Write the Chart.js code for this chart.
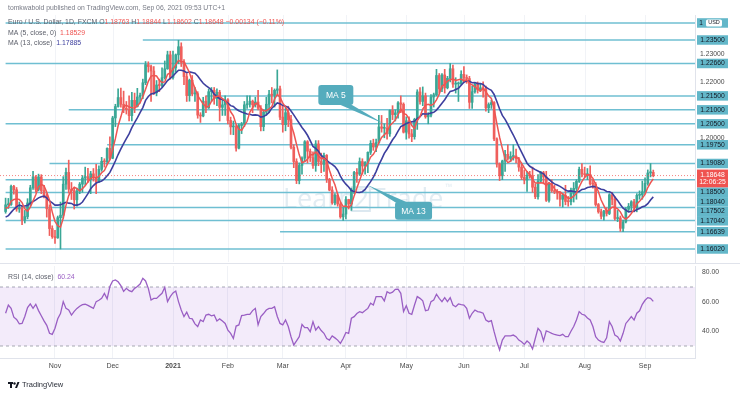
<!DOCTYPE html>
<html>
<head>
<meta charset="utf-8">
<script src="https://cdn.jsdelivr.net/npm/chart.js@4.4.0/dist/chart.umd.min.js"></script>
<style>
  html, body { margin: 0; padding: 0; background: #fff; }
  #wrap { position: relative; width: 740px; height: 393px; overflow: hidden; }
  canvas { position: absolute; left: 0; }
  #price { top: 0; }
  #rsi { top: 263px; }
</style>
</head>
<body>
<div id="wrap">
  <canvas id="price" width="740" height="263"></canvas>
  <canvas id="rsi" width="740" height="130"></canvas>
</div>
<script>
// EUR/USD daily bars, index 0 = 7 Oct 2020, last = 6 Sep 2021
const open = [
  1.1736,1.1760,1.1761,1.1826,1.1814,1.1745,1.1747,1.1706,1.1718,1.1767,1.1821,1.1860,1.1815,1.1860,1.1811,1.1794,1.1746,1.1675,
  1.1646,1.1642,1.1714,1.1723,1.1834,1.1876,1.1816,1.1811,1.1778,1.1809,1.1834,1.1856,1.1861,1.1851,1.1871,1.1857,1.1842,1.1887,1.1916,1.1914,1.1962,
  1.1927,1.2071,1.2112,1.2144,1.2120,1.2106,1.2101,1.2079,1.2134,1.2112,1.2146,1.2152,1.2197,1.2262,1.2255,1.2239,1.2161,1.2189,1.2187,1.2215,1.2247,1.2297,
  1.2216,1.2250,1.2297,1.2326,1.2270,1.2219,1.2151,1.2206,1.2157,1.2158,1.2081,1.2078,1.2131,1.2107,1.2165,1.2170,1.2140,1.2163,1.2109,1.2118,
  1.2136,1.2062,1.2039,1.2040,1.1963,1.2044,1.2049,1.2118,1.2120,1.2131,1.2118,1.2128,1.2106,1.2040,1.2092,1.2120,1.2156,1.2152,1.2170,1.2175,
  1.2074,1.2047,1.2090,1.2065,1.1966,1.1915,1.1847,1.1901,1.1927,1.1986,1.1952,1.1929,1.1901,1.1978,1.1915,1.1905,1.1937,1.1851,1.1813,1.1767,1.1794,1.1763,1.1717,
  1.1727,1.1779,1.1763,1.1814,1.1876,1.1870,1.1915,1.1899,1.1912,1.1948,1.1980,1.1967,1.1983,1.2039,1.2034,1.2034,1.2014,1.2098,1.2083,1.2089,1.2125,1.2120,
  1.2020,1.2061,1.2014,1.2004,1.2066,1.2164,1.2130,1.2150,1.2075,1.2081,1.2146,1.2154,1.2223,1.2175,1.2225,1.2179,1.2213,1.2247,1.2192,1.2193,1.2193,
  1.2227,1.2214,1.2212,1.2127,1.2165,1.2192,1.2172,1.2179,1.2175,1.2107,1.2119,1.2126,1.1996,1.1906,1.1864,1.1917,1.1941,1.1926,1.1933,1.1935,1.1925,1.1895,
  1.1858,1.1849,1.1866,1.1865,1.1823,1.1789,1.1845,1.1875,1.1860,1.1776,1.1837,1.1811,1.1806,1.1802,1.1780,1.1794,1.1772,1.1771,1.1801,1.1819,1.1844,1.1887,
  1.1870,1.1868,1.1869,1.1835,1.1834,1.1761,1.1735,1.1719,1.1738,1.1729,1.1796,1.1780,1.1711,1.1713,1.1676,1.1699,1.1744,1.1755,1.1771,1.1750,1.1794,1.1796,
  1.1807,1.1837,1.1874,1.18763
];
const high = [
  1.1784,1.1783,1.1831,1.1830,1.1822,1.1770,1.1755,1.1740,1.1782,1.1830,1.1880,1.1865,1.1870,1.1868,1.1830,1.1800,1.1760,1.1685,
  1.1669,1.1720,1.1770,1.1861,1.1892,1.1920,1.1840,1.1820,1.1820,1.1840,1.1865,1.1895,1.1891,1.1880,1.1890,1.1905,1.1900,1.1930,1.1925,1.1964,1.2003,
  1.2077,1.2120,1.2175,1.2178,1.2167,1.2130,1.2150,1.2163,1.2160,1.2177,1.2160,1.2210,1.2273,1.2272,1.2260,1.2255,1.2205,1.2210,1.2250,1.2275,1.2310,1.2310,
  1.2310,1.2300,1.2349,1.2340,1.2280,1.2230,1.2210,1.2223,1.2180,1.2165,1.2090,1.2145,1.2150,1.2175,1.2180,1.2180,1.2175,1.2170,1.2140,1.2150,
  1.2140,1.2074,1.2060,1.2045,1.2050,1.2055,1.2130,1.2150,1.2150,1.2135,1.2145,1.2170,1.2115,1.2100,1.2145,1.2170,1.2180,1.2175,1.2243,1.2185,
  1.2115,1.2110,1.2113,1.2080,1.1975,1.1925,1.1910,1.1932,1.1990,1.1990,1.1960,1.1950,1.1990,1.1990,1.1945,1.1945,1.1940,1.1855,1.1825,1.1800,1.1800,1.1770,1.1750,
  1.1790,1.1780,1.1820,1.1880,1.1890,1.1928,1.1925,1.1915,1.1950,1.1990,1.1995,1.1995,1.2080,1.2080,1.2050,1.2070,1.2100,1.2115,1.2100,1.2130,1.2150,1.2125,
  1.2075,1.2075,1.2030,1.2070,1.2172,1.2180,1.2182,1.2160,1.2090,1.2155,1.2160,1.2245,1.2230,1.2230,1.2245,1.2220,1.2266,1.2260,1.2215,1.2200,1.2240,
  1.2255,1.2225,1.2220,1.2185,1.2195,1.2200,1.2195,1.2200,1.2185,1.2125,1.2135,1.2130,1.2000,1.1910,1.1920,1.1955,1.1975,1.1950,1.1975,1.1960,1.1930,1.1905,
  1.1885,1.1880,1.1880,1.1895,1.1835,1.1868,1.1880,1.1880,1.1880,1.1840,1.1850,1.1830,1.1815,1.1805,1.1800,1.1830,1.1790,1.1820,1.1840,1.1850,1.1895,1.1908,
  1.1895,1.1890,1.1900,1.1850,1.1840,1.1765,1.1745,1.1740,1.1750,1.1800,1.1805,1.1790,1.1740,1.1720,1.1705,1.1750,1.1765,1.1775,1.1780,1.1800,1.1810,1.1845,
  1.1857,1.1885,1.1908,1.18844
];
const low = [
  1.1730,1.1747,1.1758,1.1798,1.1737,1.1733,1.1689,1.1695,1.1710,1.1755,1.1815,1.1805,1.1810,1.1800,1.1785,1.1716,1.1650,1.1640,
  1.1622,1.1640,1.1602,1.1712,1.1815,1.1802,1.1779,1.1745,1.1755,1.1800,1.1805,1.1830,1.1840,1.1800,1.1845,1.1800,1.1840,1.1880,1.1895,1.1905,1.1922,
  1.1925,1.2040,1.2110,1.2110,1.2090,1.2085,1.2060,1.2060,1.2090,1.2110,1.2125,1.2140,1.2190,1.2235,1.2130,1.2155,1.2150,1.2165,1.2180,1.2210,1.2245,1.2210,
  1.2210,1.2235,1.2265,1.2255,1.2190,1.2130,1.2131,1.2150,1.2130,1.2070,1.2055,1.2075,1.2090,1.2105,1.2130,1.2120,1.2115,1.2060,1.2080,1.2080,
  1.2050,1.2012,1.2011,1.1952,1.1960,1.2015,1.2040,1.2105,1.2110,1.2090,1.2110,1.2100,1.2025,1.2025,1.2080,1.2090,1.2125,1.2110,1.2155,1.2065,
  1.2020,1.2025,1.2040,1.1960,1.1893,1.1836,1.1835,1.1870,1.1915,1.1910,1.1915,1.1890,1.1880,1.1900,1.1875,1.1880,1.1840,1.1810,1.1762,1.1760,1.1755,1.1712,1.1704,
  1.1710,1.1745,1.1740,1.1800,1.1840,1.1865,1.1870,1.1870,1.1875,1.1940,1.1955,1.1950,1.1980,1.2020,1.2000,1.1995,1.2005,1.2065,1.2060,1.2070,1.2090,1.2017,
  1.1995,1.1999,1.1986,1.1995,1.2030,1.2120,1.2115,1.2070,1.2050,1.2075,1.2110,1.2150,1.2160,1.2165,1.2160,1.2175,1.2200,1.2180,1.2160,1.2130,1.2190,
  1.2200,1.2195,1.2105,1.2105,1.2160,1.2160,1.2165,1.2145,1.2095,1.2090,1.2105,1.1990,1.1895,1.1847,1.1850,1.1880,1.1920,1.1915,1.1920,1.1910,1.1880,1.1850,
  1.1835,1.1808,1.1855,1.1805,1.1782,1.1780,1.1840,1.1835,1.1772,1.1770,1.1805,1.1800,1.1780,1.1755,1.1752,1.1760,1.1755,1.1760,1.1770,1.1780,1.1840,1.1860,
  1.1860,1.1850,1.1830,1.1820,1.1755,1.1730,1.1710,1.1705,1.1720,1.1725,1.1760,1.1705,1.1700,1.1665,1.1664,1.1695,1.1735,1.1740,1.1735,1.1735,1.1780,1.1780,
  1.1800,1.1830,1.1860,1.18602
];
const close = [
  1.1760,1.1761,1.1826,1.1814,1.1745,1.1747,1.1706,1.1718,1.1767,1.1821,1.1860,1.1815,1.1860,1.1811,1.1794,1.1746,1.1675,1.1646,
  1.1642,1.1714,1.1723,1.1834,1.1876,1.1816,1.1811,1.1778,1.1809,1.1834,1.1856,1.1861,1.1851,1.1871,1.1857,1.1842,1.1887,1.1916,1.1914,1.1962,1.1927,
  1.2071,1.2112,1.2144,1.2120,1.2106,1.2101,1.2079,1.2134,1.2112,1.2146,1.2152,1.2197,1.2262,1.2255,1.2239,1.2161,1.2189,1.2187,1.2215,1.2247,1.2297,1.2216,
  1.2250,1.2297,1.2326,1.2270,1.2219,1.2151,1.2206,1.2157,1.2158,1.2081,1.2078,1.2131,1.2107,1.2165,1.2170,1.2140,1.2163,1.2109,1.2118,1.2136,
  1.2062,1.2039,1.2040,1.1963,1.2044,1.2049,1.2118,1.2120,1.2131,1.2118,1.2128,1.2106,1.2040,1.2092,1.2120,1.2156,1.2152,1.2170,1.2175,1.2074,
  1.2047,1.2090,1.2065,1.1966,1.1915,1.1847,1.1901,1.1927,1.1986,1.1952,1.1929,1.1901,1.1978,1.1915,1.1905,1.1937,1.1851,1.1813,1.1767,1.1794,1.1763,1.1717,1.1727,
  1.1779,1.1763,1.1814,1.1876,1.1870,1.1915,1.1899,1.1912,1.1948,1.1980,1.1967,1.1983,1.2039,1.2034,1.2034,1.2014,1.2098,1.2083,1.2089,1.2125,1.2120,1.2020,
  1.2061,1.2014,1.2004,1.2066,1.2164,1.2130,1.2150,1.2075,1.2081,1.2146,1.2154,1.2223,1.2175,1.2225,1.2179,1.2213,1.2247,1.2192,1.2193,1.2193,1.2227,
  1.2214,1.2212,1.2127,1.2165,1.2192,1.2172,1.2179,1.2175,1.2107,1.2119,1.2126,1.1996,1.1906,1.1864,1.1917,1.1941,1.1926,1.1933,1.1935,1.1925,1.1895,1.1858,
  1.1849,1.1866,1.1865,1.1823,1.1789,1.1845,1.1875,1.1860,1.1776,1.1837,1.1811,1.1806,1.1802,1.1780,1.1794,1.1772,1.1771,1.1801,1.1819,1.1844,1.1887,1.1870,
  1.1868,1.1869,1.1835,1.1834,1.1761,1.1735,1.1719,1.1738,1.1729,1.1796,1.1780,1.1711,1.1713,1.1676,1.1699,1.1744,1.1755,1.1771,1.1750,1.1794,1.1796,1.1807,
  1.1837,1.1874,1.18782,1.18648
];
// MA (5, close) and MA (13, close)
const ma5 = [
  1.1748,1.1751,1.1773,1.1779,1.1781,1.1779,1.1768,1.1746,1.1737,1.1752,1.1774,1.1796,1.1825,1.1833,1.1828,1.1805,1.1777,1.1734,
  1.1701,1.1685,1.1680,1.1712,1.1758,1.1793,1.1812,1.1823,1.1818,1.1810,1.1818,1.1828,1.1842,1.1855,1.1859,1.1856,1.1862,1.1875,1.1883,1.1904,1.1921,
  1.1958,1.1997,1.2043,1.2075,1.2111,1.2117,1.2110,1.2108,1.2106,1.2114,1.2125,1.2148,1.2174,1.2202,1.2221,1.2223,1.2221,1.2206,1.2198,1.2200,1.2227,1.2232,
  1.2245,1.2261,1.2277,1.2272,1.2272,1.2253,1.2234,1.2201,1.2178,1.2151,1.2136,1.2121,1.2111,1.2112,1.2130,1.2143,1.2149,1.2149,1.2140,1.2133,
  1.2118,1.2093,1.2079,1.2048,1.2030,1.2027,1.2043,1.2059,1.2092,1.2107,1.2123,1.2121,1.2105,1.2097,1.2097,1.2103,1.2112,1.2138,1.2155,1.2145,
  1.2124,1.2111,1.2090,1.2048,1.2017,1.1977,1.1939,1.1911,1.1915,1.1923,1.1939,1.1939,1.1949,1.1935,1.1926,1.1927,1.1917,1.1884,1.1855,1.1832,1.1798,1.1771,1.1754,
  1.1756,1.1750,1.1760,1.1792,1.1820,1.1848,1.1875,1.1894,1.1909,1.1931,1.1941,1.1958,1.1983,1.2001,1.2011,1.2021,1.2044,1.2053,1.2064,1.2082,1.2103,1.2087,
  1.2083,1.2068,1.2044,1.2033,1.2062,1.2076,1.2103,1.2117,1.2120,1.2116,1.2121,1.2136,1.2156,1.2185,1.2191,1.2203,1.2208,1.2211,1.2205,1.2208,1.2210,
  1.2204,1.2208,1.2195,1.2189,1.2182,1.2174,1.2167,1.2177,1.2165,1.2150,1.2141,1.2105,1.2051,1.2002,1.1962,1.1925,1.1911,1.1916,1.1930,1.1932,1.1923,1.1909,
  1.1892,1.1879,1.1867,1.1852,1.1838,1.1838,1.1839,1.1838,1.1829,1.1839,1.1832,1.1818,1.1806,1.1807,1.1799,1.1791,1.1784,1.1784,1.1791,1.1801,1.1824,1.1844,
  1.1858,1.1868,1.1866,1.1855,1.1833,1.1807,1.1777,1.1757,1.1736,1.1743,1.1752,1.1751,1.1746,1.1735,1.1716,1.1709,1.1717,1.1729,1.1744,1.1763,1.1773,1.1784,
  1.1797,1.1822,1.1839,1.18529
];
const ma13 = [
  1.1716,1.1721,1.1733,1.1744,1.1753,1.1759,1.1756,1.1756,1.1758,1.1766,1.1772,1.1778,1.1785,1.1789,1.1791,1.1785,1.1774,1.1767,
  1.1759,1.1759,1.1760,1.1765,1.1769,1.1766,1.1765,1.1759,1.1759,1.1762,1.1770,1.1785,1.1800,1.1818,1.1829,1.1838,1.1842,1.1845,1.1853,1.1864,1.1876,
  1.1896,1.1917,1.1940,1.1960,1.1979,1.1997,1.2014,1.2036,1.2054,1.2071,1.2090,1.2108,1.2134,1.2148,1.2157,1.2159,1.2164,1.2170,1.2179,1.2192,1.2205,1.2213,
  1.2221,1.2232,1.2242,1.2242,1.2239,1.2233,1.2236,1.2234,1.2231,1.2221,1.2208,1.2195,1.2187,1.2180,1.2171,1.2156,1.2148,1.2140,1.2137,1.2132,
  1.2124,1.2115,1.2112,1.2103,1.2097,1.2092,1.2089,1.2085,1.2084,1.2081,1.2082,1.2081,1.2074,1.2076,1.2082,1.2091,1.2106,1.2115,1.2125,1.2122,
  1.2116,1.2113,1.2109,1.2096,1.2082,1.2067,1.2052,1.2037,1.2024,1.2009,1.1990,1.1969,1.1962,1.1952,1.1937,1.1928,1.1919,1.1911,1.1905,1.1897,1.1884,1.1863,1.1846,
  1.1834,1.1824,1.1811,1.1808,1.1805,1.1804,1.1807,1.1815,1.1829,1.1843,1.1859,1.1879,1.1903,1.1923,1.1944,1.1959,1.1976,1.1993,1.2006,1.2024,1.2040,1.2045,
  1.2051,1.2055,1.2057,1.2059,1.2069,1.2076,1.2086,1.2085,1.2085,1.2089,1.2091,1.2099,1.2111,1.2124,1.2136,1.2152,1.2166,1.2168,1.2173,1.2177,1.2188,
  1.2199,1.2204,1.2202,1.2197,1.2198,1.2194,1.2194,1.2191,1.2181,1.2175,1.2170,1.2155,1.2130,1.2103,1.2080,1.2066,1.2048,1.2028,1.2010,1.1990,1.1968,1.1949,
  1.1929,1.1909,1.1898,1.1892,1.1886,1.1881,1.1876,1.1871,1.1859,1.1851,1.1842,1.1835,1.1831,1.1826,1.1820,1.1813,1.1809,1.1810,1.1808,1.1806,1.1808,1.1815,
  1.1817,1.1822,1.1824,1.1826,1.1825,1.1820,1.1816,1.1814,1.1808,1.1807,1.1802,1.1788,1.1776,1.1761,1.1748,1.1741,1.1735,1.1736,1.1737,1.1743,1.1747,1.1753,
  1.1756,1.1764,1.1777,1.17885
];
// RSI (14, close)
const rsi = [
  52.2,57.8,55.5,49.5,48.0,45.0,45.3,50.0,56.0,58.5,55.5,58.3,54.0,50.5,47.0,44.0,38.6,37.9,42.0,48.5,
  52.0,60.1,55.5,54.5,51.0,53.5,55.5,57.0,58.0,58.3,57.5,56.5,55.5,60.1,61.0,62.3,65.7,62.0,70.3,74.1,
  74.8,73.5,71.0,67.0,69.1,67.5,66.8,69.1,70.3,72.0,75.9,74.1,69.1,61.2,62.3,62.3,64.0,65.7,69.8,60.1,
  63.5,66.0,67.3,60.1,54.4,49.9,52.9,48.8,48.4,45.0,43.2,47.6,46.5,51.0,51.5,50.5,51.0,46.9,48.4,47.0,
  45.3,40.8,38.5,35.1,43.5,44.3,50.6,51.0,51.5,51.5,54.0,55.5,44.3,49.9,52.0,54.4,55.5,55.5,56.6,50.0,
  45.3,44.3,47.6,43.2,36.3,30.7,33.5,36.3,44.6,42.4,42.4,39.7,46.5,40.8,43.2,40.5,38.6,35.1,34.0,36.8,
  35.5,34.0,31.8,35.1,39.2,38.6,48.8,49.9,52.0,53.3,52.6,54.0,55.5,59.0,57.8,63.5,63.5,63.5,60.6,66.8,
  65.7,66.5,68.4,68.6,65.7,53.3,57.3,52.2,51.5,57.8,63.5,62.3,60.6,53.9,54.4,60.1,61.2,65.1,62.3,60.1,
  62.8,60.1,62.8,57.8,56.6,58.5,58.0,57.8,55.5,48.8,52.2,54.4,53.3,53.0,52.2,47.6,46.5,47.2,39.7,32.9,
  27.3,34.0,36.8,36.8,36.8,37.4,36.3,34.0,32.9,31.1,33.4,31.8,28.0,35.1,41.9,39.7,33.4,40.2,39.5,38.6,
  37.8,37.4,37.0,37.9,36.3,36.3,40.0,43.2,47.6,53.3,51.5,51.0,49.0,47.6,43.2,36.3,34.0,33.0,32.4,35.6,
  46.5,43.2,37.4,36.3,33.4,38.6,45.3,47.6,49.9,47.6,52.2,53.9,58.3,61.0,62.8,62.3,60.24
];

const monthTickIdx = [18, 39, 61, 81, 101, 124, 146, 167, 189, 211, 233];
const monthTickLabels = ['Nov', 'Dec', '2021', 'Feb', 'Mar', 'Apr', 'May', 'Jun', 'Jul', 'Aug', 'Sep'];

// horizontal levels drawn on the chart (price, first bar index)
const levelPrices = [1.2411, 1.235, 1.2266, 1.215, 1.21, 1.205, 1.1975, 1.1908, 1.185, 1.1804, 1.17502, 1.1704, 1.16639, 1.1602];
const levelStart = [0, 50, 0, 73, 23, 0, 37, 16, 0, 0, 0, 0, 100, 0];
const plainTicks = [1.23, 1.22, 1.20];
const rsiTicks = [40, 60, 80];

const calloutText = ['MA 5', 'MA 13'];
const calloutIdx = [138, 131.7];
const calloutPrice = [1.2049, 1.1832];

const X_MIN = -2.04, X_MAX = 251.2;
const Y_MIN = 1.15554, Y_MAX = 1.24395;
const RSI_MIN = 21.86, RSI_MAX = 84.24;

const FONT = '"Liberation Sans", Arial, sans-serif';
const GRAY = '#5d606b';
const RED = '#ef5350';
const UP = '#3aa796', DOWN = '#ef5f5c';
const LEVEL = '#6fbfd2';
const last = close.length - 1;
const idx = close.map((_, i) => i);
const candleColor = i => (close[i] >= open[i] ? UP : DOWN);
const fmt = v => v.toFixed(5);

function drawSegments(ctx, x, y, segs, size) {
  ctx.font = size + 'px ' + FONT;
  ctx.textBaseline = 'middle';
  ctx.textAlign = 'left';
  segs.forEach(([t, c]) => {
    ctx.fillStyle = c;
    ctx.fillText(t, x, y);
    x += ctx.measureText(t).width;
  });
}

// keep the y axes from reserving room for half a tick label
function fixAxis(s) {
  s.width = 45;
  s.paddingTop = 0;
  s.paddingBottom = 0;
}

const priceDecor = {
  id: 'priceDecor',
  beforeDatasetsDraw(chart) {
    const { ctx, chartArea: a, scales: { x } } = chart;
    ctx.save();
    // faint month grid
    ctx.strokeStyle = '#f1f3f7';
    ctx.lineWidth = 1;
    monthTickIdx.forEach(i => {
      const px = Math.round(x.getPixelForValue(i)) + 0.5;
      ctx.beginPath(); ctx.moveTo(px, a.top); ctx.lineTo(px, a.bottom); ctx.stroke();
    });
    // watermark
    ctx.fillStyle = 'rgba(140,180,205,0.25)';
    ctx.strokeStyle = 'rgba(140,180,205,0.3)';
    ctx.font = '27px "Open Sans", sans-serif';
    ctx.textBaseline = 'alphabetic';
    ctx.textAlign = 'left';
    let wx = 283;
    ctx.fillText('Learn', wx, 208);
    wx += ctx.measureText('Learn').width - 3;
    ctx.lineWidth = 2;
    ctx.strokeRect(wx, 187, 18, 24);
    ctx.fillText('2', wx + 2, 208);
    wx += 19;
    ctx.fillText('Trade', wx, 208);
    wx += ctx.measureText('Trade').width + 2;
    ctx.font = '9px "Open Sans", sans-serif';
    ctx.fillText('™', wx, 190);
    ctx.restore();
  },
  afterDatasetsDraw(chart) {
    const { ctx, scales: { x, y } } = chart;
    ctx.save();
    calloutText.forEach((t, k) => {
      const tx = x.getPixelForValue(calloutIdx[k]);
      const ty = y.getPixelForValue(calloutPrice[k]);
      let bx, by, bw, bh, tail;
      if (k === 0) {
        bx = tx - 66; by = ty - 39; bw = 35; bh = 20;
        tail = [[tx - 46, by + bh - 1], [tx - 34, by + bh - 1]];
      } else {
        bx = tx + 28; by = ty + 17; bw = 37; bh = 18;
        tail = [[bx + 1, by + 1], [bx + 13, by + 1]];
      }
      ctx.fillStyle = '#55acbd';
      ctx.beginPath();
      ctx.moveTo(tail[0][0], tail[0][1]);
      ctx.lineTo(tail[1][0], tail[1][1]);
      ctx.lineTo(tx, ty);
      ctx.closePath();
      ctx.fill();
      ctx.beginPath();
      ctx.roundRect(bx, by, bw, bh, 3);
      ctx.fill();
      ctx.fillStyle = '#ffffff';
      ctx.font = '8.5px ' + FONT;
      ctx.textAlign = 'center';
      ctx.textBaseline = 'middle';
      ctx.fillText(t, bx + bw / 2, by + bh / 2 + 0.5);
    });
    ctx.restore();
  },
  afterDraw(chart) {
    const { ctx, chartArea: a, scales: { y } } = chart;
    ctx.save();
    // header
    ctx.font = '6.8px ' + FONT;
    ctx.fillStyle = '#787b86';
    ctx.textBaseline = 'middle';
    ctx.fillText('tomkwabold published on TradingView.com, Sep 06, 2021 09:53 UTC+1', 8, 8);
    // legend
    const chg = close[last] - close[last - 1];
    const pct = chg / close[last - 1] * 100;
    const chgText = (chg.toFixed(5) + ' (' + pct.toFixed(2) + '%)').replace(/-/g, '\u2212');
    drawSegments(ctx, 8, 22, [
      ['Euro / U.S. Dollar, 1D, FXCM', GRAY],
      [' O', GRAY], [fmt(open[last]), RED],
      [' H', GRAY], [fmt(high[last]), RED],
      [' L', GRAY], [fmt(low[last]), RED],
      [' C', GRAY], [fmt(close[last]), RED],
      [' ' + chgText, RED]
    ], 6.9);
    drawSegments(ctx, 8, 33, [['MA (5, close, 0)  ', GRAY], [fmt(ma5[last]), RED]], 6.9);
    drawSegments(ctx, 8, 43, [['MA (13, close)  ', GRAY], [fmt(ma13[last]), '#3d3f9e']], 6.9);

    // price-axis labels for levels and last price
    const bx = a.right + 2, bw = 31;
    const items = levelPrices.map((p, k) => ({ p, y: y.getPixelForValue(p), kind: k === 0 ? 'usd' : 'lvl', h: 9.5 }));
    items.push({ p: close[last], y: y.getPixelForValue(close[last]), kind: 'cur', h: 18 });
    items.sort((m, n) => m.y - n.y);
    let prevBottom = -1e9;
    ctx.textAlign = 'center';
    ctx.textBaseline = 'middle';
    items.forEach(it => {
      let top = it.y - (it.kind === 'cur' ? 6 : it.h / 2);
      if (top < prevBottom) top = prevBottom;
      prevBottom = top + it.h;
      if (it.kind === 'cur') {
        ctx.fillStyle = RED;
        ctx.fillRect(bx, top, bw, it.h);
        ctx.fillStyle = '#ffffff';
        ctx.font = '6.8px ' + FONT;
        ctx.fillText(fmt(it.p), bx + bw / 2, top + 5.5);
        ctx.fillText('12:06:25', bx + bw / 2, top + 13);
      } else if (it.kind === 'usd') {
        ctx.fillStyle = '#63b7c9';
        ctx.fillRect(bx, top, bw, it.h);
        ctx.fillStyle = '#131722';
        ctx.font = '6.5px ' + FONT;
        ctx.fillText('1', bx + 4, top + it.h / 2);
        ctx.fillStyle = '#ffffff';
        ctx.beginPath();
        ctx.roundRect(bx + 9, top + 1.2, 16, it.h - 2.4, 1.5);
        ctx.fill();
        ctx.fillStyle = '#131722';
        ctx.font = '5.5px ' + FONT;
        ctx.fillText('USD', bx + 17, top + it.h / 2);
      } else {
        ctx.fillStyle = '#63b7c9';
        ctx.fillRect(bx, top, bw, it.h);
        ctx.fillStyle = '#131722';
        ctx.font = '6.8px ' + FONT;
        ctx.fillText(fmt(it.p), bx + bw / 2, top + it.h / 2);
      }
    });
    ctx.restore();
  }
};

const levelSets = levelPrices.map((p, k) => ({
  type: 'line',
  data: [{ x: levelStart[k], y: p }, { x: X_MAX, y: p }],
  borderColor: LEVEL,
  borderWidth: 1.5,
  pointRadius: 0,
  order: 6
}));

new Chart(document.getElementById('price'), {
  type: 'bar',
  data: {
    datasets: [
      ...levelSets,
      {
        type: 'bar',
        data: idx.map(i => ({ x: i, y: [low[i], high[i]] })),
        backgroundColor: c => candleColor(c.dataIndex),
        barThickness: 1,
        grouped: false,
        order: 5
      },
      {
        type: 'bar',
        data: idx.map(i => ({ x: i, y: [open[i], close[i]] })),
        backgroundColor: c => candleColor(c.dataIndex),
        barThickness: 2,
        minBarLength: 1,
        grouped: false,
        order: 4
      },
      {
        type: 'line',
        data: [{ x: X_MIN, y: close[last] }, { x: X_MAX, y: close[last] }],
        borderColor: 'rgba(239,83,80,0.7)',
        borderWidth: 1,
        borderDash: [1, 2],
        pointRadius: 0,
        order: 3
      },
      {
        type: 'line',
        data: idx.map(i => ({ x: i, y: ma13[i] })),
        borderColor: '#3d3f9e',
        borderWidth: 1.6,
        pointRadius: 0,
        order: 2
      },
      {
        type: 'line',
        data: idx.map(i => ({ x: i, y: ma5[i] })),
        borderColor: '#ee5552',
        borderWidth: 1.5,
        pointRadius: 0,
        order: 1
      }
    ]
  },
  options: {
    responsive: false,
    animation: false,
    devicePixelRatio: 1,
    layout: { autoPadding: false, padding: { top: 15, bottom: 1, left: 0, right: 0 } },
    plugins: { legend: { display: false }, tooltip: { enabled: false } },
    scales: {
      x: { type: 'linear', min: X_MIN, max: X_MAX, offset: false, display: false },
      y: {
        position: 'right',
        min: Y_MIN,
        max: Y_MAX,
        beginAtZero: false,
        grid: { display: false, drawTicks: false },
        border: { color: '#e0e3eb' },
        afterFit: fixAxis,
        afterBuildTicks: s => { s.ticks = plainTicks.map(v => ({ value: v })); },
        ticks: { padding: 5, color: '#4a4a4a', font: { size: 6.8, family: FONT }, callback: v => v.toFixed(5) }
      }
    }
  },
  plugins: [priceDecor]
});

const rsiDecor = {
  id: 'rsiDecor',
  afterDraw(chart) {
    const { ctx } = chart;
    ctx.save();
    ctx.strokeStyle = '#e0e3eb';
    ctx.lineWidth = 1;
    ctx.beginPath(); ctx.moveTo(0, 0.5); ctx.lineTo(740, 0.5); ctx.stroke();
    drawSegments(ctx, 8, 14, [['RSI (14, close)  ', GRAY], [rsi[last].toFixed(2), '#9a5fc4']], 6.9);
    // footer logo + name
    ctx.fillStyle = '#131722';
    ctx.fillRect(8, 119, 5, 2);
    ctx.fillRect(10, 119, 2, 6);
    ctx.beginPath(); ctx.arc(14.5, 120.5, 1.2, 0, Math.PI * 2); ctx.fill();
    ctx.beginPath(); ctx.moveTo(15, 125); ctx.lineTo(17.5, 119); ctx.lineTo(19.5, 119); ctx.lineTo(17, 125); ctx.closePath(); ctx.fill();
    ctx.font = '7.5px ' + FONT;
    ctx.fillStyle = '#2a2e39';
    ctx.textBaseline = 'middle';
    ctx.textAlign = 'left';
    ctx.fillText('TradingView', 22, 122);
    ctx.restore();
  }
};

new Chart(document.getElementById('rsi'), {
  type: 'line',
  data: {
    datasets: [
      {
        data: [{ x: X_MIN, y: 70 }, { x: X_MAX, y: 70 }],
        borderColor: '#a6a9b3', borderWidth: 1, borderDash: [3, 3],
        pointRadius: 0, fill: false, order: 2
      },
      {
        data: [{ x: X_MIN, y: 30 }, { x: X_MAX, y: 30 }],
        borderColor: '#a6a9b3', borderWidth: 1, borderDash: [3, 3],
        pointRadius: 0, fill: '-1', backgroundColor: 'rgba(155,90,210,0.12)', order: 1
      },
      {
        data: idx.map(i => ({ x: i, y: rsi[i] })),
        borderColor: '#9a5fc4', borderWidth: 1.3, pointRadius: 0, fill: false, order: 0
      }
    ]
  },
  options: {
    responsive: false,
    animation: false,
    devicePixelRatio: 1,
    layout: { autoPadding: false, padding: { top: 3, bottom: 0, left: 0, right: 0 } },
    plugins: { legend: { display: false }, tooltip: { enabled: false } },
    scales: {
      x: {
        type: 'linear', min: X_MIN, max: X_MAX, offset: false,
        grid: { color: '#f0f2f6', drawTicks: false },
        border: { color: '#e0e3eb' },
        afterBuildTicks: s => { s.ticks = monthTickIdx.map(v => ({ value: v })); },
        afterFit: s => { s.height = 35; s.paddingLeft = 0; s.paddingRight = 0; },
        ticks: {
          autoSkip: false, maxRotation: 0, padding: 4, color: '#4a4a4a',
          font: c => ({ size: 7, family: FONT, weight: c.index === 2 ? 'bold' : 'normal' }),
          callback: (v, k) => monthTickLabels[k]
        }
      },
      y: {
        position: 'right', min: RSI_MIN, max: RSI_MAX,
        grid: { display: false, drawTicks: false },
        border: { color: '#e0e3eb' },
        afterFit: fixAxis,
        afterBuildTicks: s => { s.ticks = rsiTicks.map(v => ({ value: v })); },
        ticks: { padding: 7, color: '#4a4a4a', font: { size: 6.8, family: FONT }, callback: v => v.toFixed(2) }
      }
    }
  },
  plugins: [rsiDecor]
});
</script>
</body>
</html>
